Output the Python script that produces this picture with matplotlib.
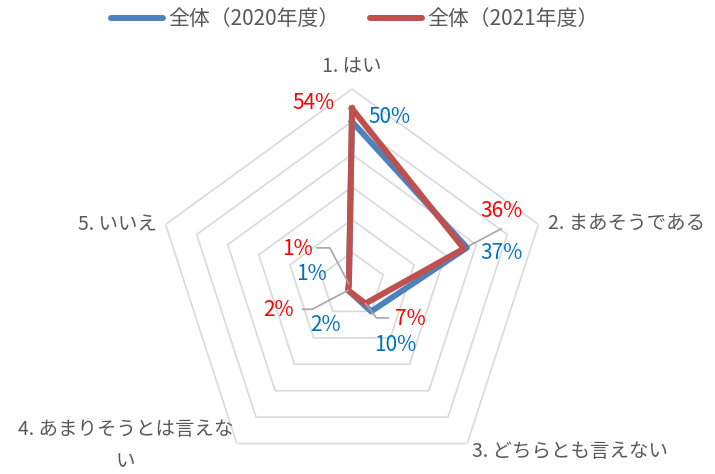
import numpy as np
import matplotlib
matplotlib.use("Agg")
import matplotlib.pyplot as plt
from matplotlib.lines import Line2D

plt.rcParams['font.family'] = ['Noto Sans CJK JP', 'DejaVu Sans']

categories = ['1. はい', '2. まあそうである', '3. どちらとも言えない',
              '4. あまりそうとは言えな\nい', '5. いいえ']
series_names = ['全体（2020年度）', '全体（2021年度）']
values_2020 = [0.50, 0.37, 0.10, 0.02, 0.01]
values_2021 = [0.54, 0.36, 0.07, 0.02, 0.01]
r_max = 0.6
ring_levels = [0.1, 0.2, 0.3, 0.4, 0.5, 0.6]

blue = '#4F81BD'
red = '#C0504D'
lbl_blue = '#0070C0'
lbl_red = '#FF0000'
text_gray = '#595959'
grid_gray = '#D9D9D9'
leader_gray = '#A6A6A6'

n = len(categories)
theta = np.arange(n) * 2 * np.pi / n
theta_c = np.append(theta, theta[0])

fig = plt.figure(figsize=(7.15, 4.74), dpi=100)
# center at (352, 285) px, outer radius 196 px
ax = fig.add_axes([156 / 715, (189 - 196) / 474, 392 / 715, 392 / 474],
                  projection='polar')
ax.set_theta_offset(np.pi / 2)
ax.set_theta_direction(-1)
ax.set_ylim(0, r_max)
ax.grid(False)
ax.spines['polar'].set_visible(False)
ax.set_xticks([])
ax.set_yticks([])
ax.patch.set_alpha(0)

for lv in ring_levels:
    ax.plot(theta_c, [lv] * (n + 1), color=grid_gray, lw=1.2, zorder=1)

ax.plot(theta_c, np.append(values_2020, values_2020[0]), color=blue, lw=4.3,
        solid_joinstyle='round', zorder=3)
ax.plot(theta_c, np.append(values_2021, values_2021[0]), color=red, lw=4.3,
        solid_joinstyle='round', zorder=4)

# category labels, offsets in points from outer vertex
cat_offsets = [(0, 16, 'center'), (7, 0.7, 'left'), (3.6, -5.8, 'left'),
               (-80, -1.4, 'center'), (-6.5, -0.7, 'right')]
for i, (dx, dy, ha) in enumerate(cat_offsets):
    ax.annotate(categories[i], xy=(theta[i], r_max), xytext=(dx, dy),
                textcoords='offset points', ha=ha, va='center', fontsize=14,
                color=text_gray, linespacing=1.65, annotation_clip=False)

# data labels
off_2020 = [(27, 3), (25, -4), (17, -24), (-16, -25), (-27, 7)]
off_2021 = [(-28, 4.3), (27, 27), (32, -11), (-50, -14), (-37, 25)]
for i in range(n):
    ax.annotate(f'{values_2020[i] * 100:.0f}%', xy=(theta[i], values_2020[i]),
                xytext=off_2020[i], textcoords='offset points', ha='center',
                va='center', fontsize=15, color=lbl_blue, zorder=6)
    ax.annotate(f'{values_2021[i] * 100:.0f}%', xy=(theta[i], values_2021[i]),
                xytext=off_2021[i], textcoords='offset points', ha='center',
                va='center', fontsize=15, color=lbl_red, zorder=6)

# leader lines for 2021 labels: (index, start offset, angleB)
leaders = [(4, (-23, 26), 117.8), (3, (-33, -13.7), 27.8), (2, (16.6, -10.4), -52.8)]
for i, start, angB in leaders:
    ax.annotate('', xy=(theta[i], values_2021[i]), xytext=start,
                textcoords='offset points',
                arrowprops=dict(arrowstyle='-', color=leader_gray, lw=1.2,
                                shrinkA=0, shrinkB=0,
                                connectionstyle=f'angle,angleA=0,angleB={angB},rad=0'),
                zorder=5)
ax.annotate('', xy=(theta[1], values_2021[1]), xytext=(27, 14.4),
            textcoords='offset points',
            arrowprops=dict(arrowstyle='-', color=leader_gray, lw=1.2,
                            shrinkA=0, shrinkB=0), zorder=2)

handles = [Line2D([0], [0], color=blue, lw=4.3, solid_capstyle='round'),
           Line2D([0], [0], color=red, lw=4.3, solid_capstyle='round')]
leg = fig.legend(handles, series_names, loc='center', bbox_to_anchor=(0.4965, 0.96),
                 ncol=2, frameon=False, fontsize=15, handlelength=2.5,
                 handletextpad=0.25, columnspacing=1.45)
for t in leg.get_texts():
    t.set_color(text_gray)

fig.savefig('out.png', dpi=100)
